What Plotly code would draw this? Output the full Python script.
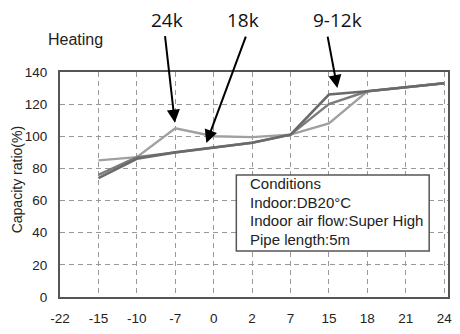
import plotly.graph_objects as go

x_cats = ["-22", "-15", "-10", "-7", "0", "2", "7", "15", "18", "21", "24"]

x_pts = ["-15", "-10", "-7", "0", "2", "7", "15", "18", "24"]
cap_9_12k = [74, 86, 90, 93, 96, 101, 126, 128, 133]
cap_18k = [76, 87, 90, 93, 96, 101, 120, 128, 133]
cap_24k = [85, 87, 105, 100, 99.5, 101, 108, 128, 133]

y_ticks = [0, 20, 40, 60, 80, 100, 120, 140]

conditions = ["Conditions", "Indoor:DB20°C", "Indoor air flow:Super High", "Pipe length:5m"]

fig = go.Figure()
fig.add_trace(go.Scatter(x=x_pts, y=cap_24k, mode="lines", line=dict(color="#a0a0a0", width=2.4), name="24k"))
fig.add_trace(go.Scatter(x=x_pts, y=cap_18k, mode="lines", line=dict(color="#7c7c7c", width=2.4), name="18k"))
fig.add_trace(go.Scatter(x=x_pts, y=cap_9_12k, mode="lines", line=dict(color="#6a6a6a", width=2.6), name="9-12k"))

fig.update_layout(
    width=460, height=334,
    margin=dict(l=60, r=8, t=72, b=37),
    paper_bgcolor="white", plot_bgcolor="white",
    showlegend=False,
    font=dict(family="Liberation Sans, Arial", color="#222"),
)
fig.update_xaxes(
    type="category", categoryorder="array", categoryarray=x_cats,
    range=[0, 10.1], showgrid=True, gridcolor="#999", gridwidth=1, griddash="5px,4px",
    showline=True, mirror=True, linecolor="#555", linewidth=2,
    ticks="outside", ticklen=0, ticklabelstandoff=8, tickfont=dict(size=13.5, color="#222"),
    zeroline=False,
)
fig.update_yaxes(
    range=[0, 140], tickvals=y_ticks, showgrid=True, gridcolor="#999", gridwidth=1, griddash="5px,4px",
    showline=True, mirror=True, linecolor="#555", linewidth=2,
    ticks="outside", ticklen=0, ticklabelstandoff=8, tickfont=dict(size=13.5, color="#222"),
    zeroline=False,
)

# y title and Heating label
fig.add_annotation(text="Capacity ratio(%)", xref="paper", yref="paper", x=-0.11, y=0.52,
                   xanchor="center", yanchor="middle", textangle=-90, showarrow=False,
                   font=dict(size=14, color="#222"))
fig.add_annotation(text="Heating", xref="paper", yref="paper", x=-0.036, y=1.143,
                   xanchor="left", yanchor="middle", showarrow=False,
                   font=dict(size=16, color="#222"))

# Conditions box
fig.add_shape(type="rect", xref="x", yref="y", x0=4.59, x1=9.61, y0=28.6, y1=75.9,
              line=dict(color="#555", width=1.5), fillcolor="white", layer="above")
for i, t in enumerate(conditions):
    fig.add_annotation(text=t, xref="x", yref="y", x=4.9, y=70.5 - i * 11.6,
                       xanchor="left", yanchor="middle", showarrow=False,
                       font=dict(size=15, color="#222"))

# labels with arrows
labels = [("24k", 168, 2.99, 108.5, -10, -88), ("18k", 245, 3.81, 95.8, 40, -108), ("9-12k", 340, 7.22, 130, -10, -53)]
for txt, px, tx, ty, ax, ay in labels:
    fig.add_annotation(text=txt, xref="paper", yref="paper", x=(px - 60) / 392, y=(297 - 20) / 225,
                       xanchor="center", yanchor="middle", showarrow=False,
                       font=dict(family="Open Sans", size=19, color="#111"))
    fig.add_annotation(text="", xref="x", yref="y", x=tx, y=ty, ax=ax, ay=ay,
                       showarrow=True, arrowhead=2, arrowsize=1.3, arrowwidth=2, arrowcolor="#000")

fig.write_html("out.html", config={"displayModeBar": False},
               post_script="document.body.style.margin='0';")
